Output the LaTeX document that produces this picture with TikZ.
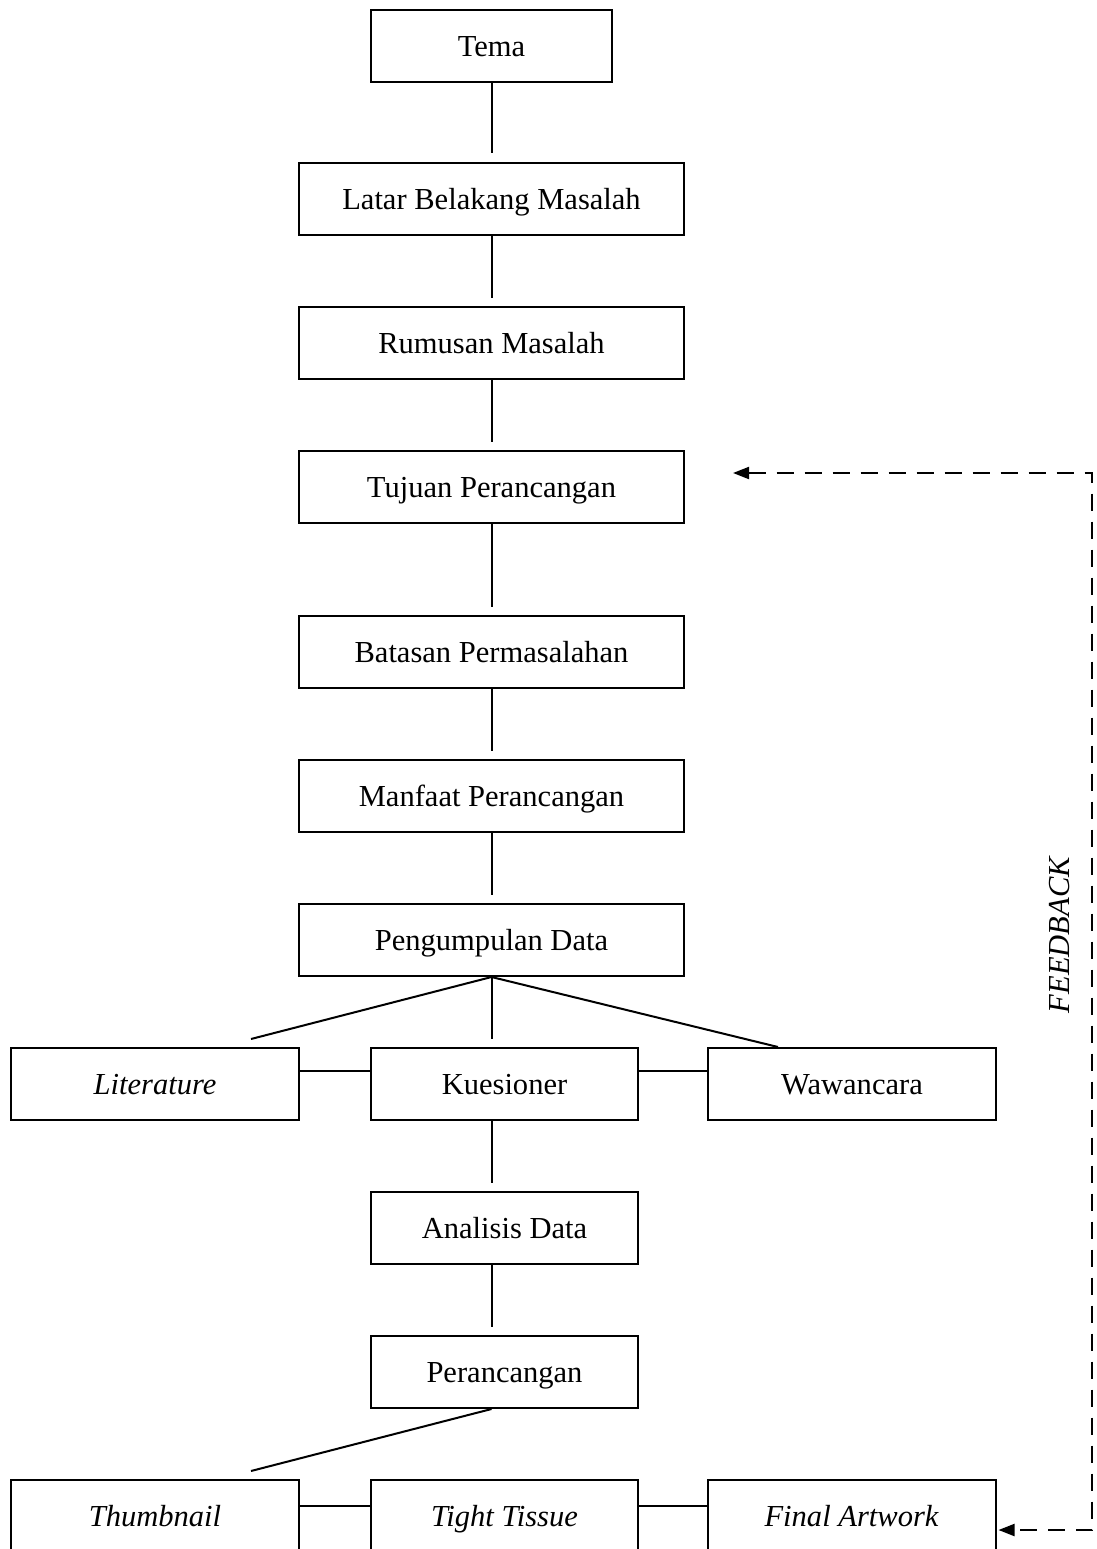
\documentclass[tikz,border=0pt]{standalone}
\usepackage{fontspec}
\setmainfont{Liberation Serif}
\usetikzlibrary{calc,arrows.meta}
\begin{document}
\begin{tikzpicture}[x=0.75pt,y=-0.75pt,
  box/.style={draw, line width=1.5pt, minimum height=54pt, inner sep=0pt, align=center,
    text height=16pt, text depth=0pt,
    font=\fontsize{22.9}{27}\selectfont},
  narrowbox/.style={box, minimum width=180.75pt},
  widebox/.style={box, minimum width=288.75pt},
  sidebox/.style={box, minimum width=216pt},
  midbox/.style={box, minimum width=200.25pt},
  conn/.style={line width=1.5pt},
  fb/.style={line width=1.5pt, dash pattern=on 12.75pt off 8.25pt,
    {Triangle[length=12pt,width=9pt]}-{Triangle[length=12pt,width=9pt]}},
  fblabel/.style={rotate=90, inner sep=0pt, font=\fontsize{22.9}{27}\selectfont\itshape}
]
\useasboundingbox (0,0) rectangle (1096,1549);

% main column
\node[narrowbox] (tema) at (491.5,46) {Tema};
\node[widebox] (latar) at (491.5,198.5) {Latar Belakang Masalah};
\node[widebox] (rumusan) at (491.5,342.5) {Rumusan Masalah};
\node[widebox] (tujuan) at (491.5,487) {Tujuan Perancangan};
\node[widebox] (batasan) at (491.5,652) {Batasan Permasalahan};
\node[widebox] (manfaat) at (491.5,796) {Manfaat Perancangan};
\node[widebox] (pengumpulan) at (491.5,940) {Pengumpulan Data};

% data row
\node[sidebox] (literature) at (155,1084) {\itshape Literature};
\node[midbox] (kuesioner) at (504.5,1084) {Kuesioner};
\node[sidebox] (wawancara) at (852,1084) {Wawancara};

\node[midbox] (analisis) at (504.5,1228) {Analisis Data};
\node[midbox] (perancangan) at (504.5,1372) {Perancangan};

% bottom row
\node[sidebox] (thumbnail) at (155,1516) {\itshape Thumbnail};
\node[midbox] (tight) at (504.5,1516) {\itshape Tight Tissue};
\node[sidebox] (final) at (851.5,1516) {\itshape Final Artwork};

% vertical connectors
\draw[conn] (tema.south) -- ($(latar.north)+(0,-9)$);
\draw[conn] (latar.south) -- ($(rumusan.north)+(0,-8)$);
\draw[conn] (rumusan.south) -- ($(tujuan.north)+(0,-8)$);
\draw[conn] (tujuan.south) -- ($(batasan.north)+(0,-8)$);
\draw[conn] (batasan.south) -- ($(manfaat.north)+(0,-8)$);
\draw[conn] (manfaat.south) -- ($(pengumpulan.north)+(0,-8)$);

% branching to data row
\draw[conn] (pengumpulan.south) -- ($(pengumpulan.south |- kuesioner.north)+(0,-8)$);
\draw[conn] (pengumpulan.south) -- ($(literature.north)+(96,-8)$);
\draw[conn] (pengumpulan.south) -- ($(wawancara.north)+(-74,0)$);
\draw[conn] ($(literature.north east)+(0,24)$) -- ($(kuesioner.north west)+(0,24)$);
\draw[conn] ($(kuesioner.north east)+(0,24)$) -- ($(wawancara.north west)+(0,24)$);

\draw[conn] (pengumpulan.south |- kuesioner.south) -- ($(pengumpulan.south |- analisis.north)+(0,-8)$);
\draw[conn] (pengumpulan.south |- analisis.south) -- ($(pengumpulan.south |- perancangan.north)+(0,-8)$);

% branching to bottom row
\draw[conn] (pengumpulan.south |- perancangan.south) -- ($(thumbnail.north)+(96,-8)$);
\draw[conn] ($(thumbnail.north east)+(0,27)$) -- ($(tight.north west)+(0,27)$);
\draw[conn] ($(tight.north east)+(0,27)$) -- ($(final.north west)+(0,27)$);

% feedback loop
\coordinate (fbA) at ($(tujuan.east)+(48,-14)$);
\coordinate (fbB) at ($(final.east)+(2,14)$);
\coordinate (fbX) at (1092,0);
\draw[fb] (fbA) -- (fbA -| fbX) -- (fbB -| fbX) -- (fbB);
\node[fblabel] (fbl) at (1060,935) {FEEDBACK};
\end{tikzpicture}
\end{document}
